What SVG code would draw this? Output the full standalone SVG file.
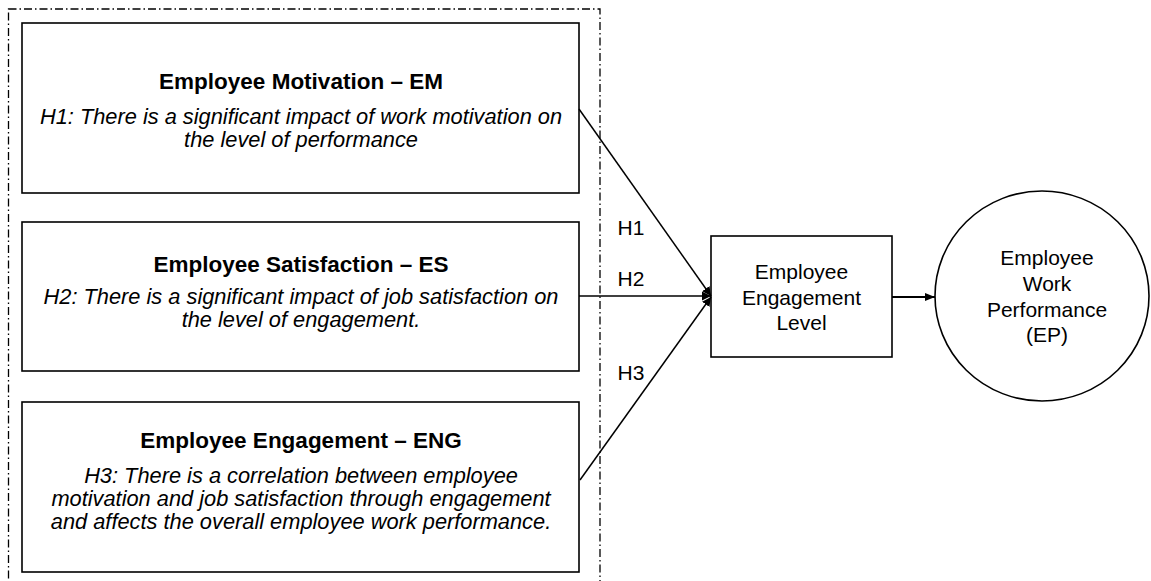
<svg xmlns="http://www.w3.org/2000/svg" width="1151" height="581" viewBox="0 0 1151 581">
  <style>
    .box { fill: #ffffff; stroke: #000000; stroke-width: 1.6; }
    .frame { fill: none; stroke: #000000; stroke-width: 1.3; stroke-dasharray: 8 3 1.5 3; }
    .title { font-family: "Liberation Sans", Arial, sans-serif; font-weight: bold; font-size: 22.5px; fill: #000000; text-anchor: middle; }
    .hyp { font-family: "Liberation Sans", Arial, sans-serif; font-style: italic; font-size: 21.8px; fill: #000000; text-anchor: middle; }
    .label { font-family: "Liberation Sans", Arial, sans-serif; font-size: 21px; fill: #000000; text-anchor: middle; }
    .edge { fill: none; stroke: #000000; stroke-width: 1.5; }
    .edge-out { fill: none; stroke: #000000; stroke-width: 2.2; }
  </style>
  <defs>
    <marker id="arrow" viewBox="0 0 10 10" refX="10" refY="5" markerWidth="9" markerHeight="9" markerUnits="userSpaceOnUse" orient="auto">
      <path d="M0,0 L10,5 L0,10 z" fill="#000000"/>
    </marker>
    <marker id="arrow-out" viewBox="0 0 10 10" refX="10" refY="5" markerWidth="10" markerHeight="10" markerUnits="userSpaceOnUse" orient="auto">
      <path d="M0,1 L10,5 L0,9 z" fill="#000000"/>
    </marker>
  </defs>

  <rect width="1151" height="581" fill="#ffffff"/>

  <!-- dash-dot boundary around the three constructs -->
  <rect class="frame" x="8.5" y="9" width="591.5" height="600"/>

  <g id="node-em">
    <rect class="box" x="22" y="23" width="557" height="170"/>
    <text class="title" x="301" y="89">Employee Motivation – EM</text>
    <text class="hyp" x="301" y="124">H1: There is a significant impact of work motivation on</text>
    <text class="hyp" x="301" y="147">the level of performance</text>
  </g>

  <g id="node-es">
    <rect class="box" x="22" y="222" width="557" height="149"/>
    <text class="title" x="301" y="272">Employee Satisfaction – ES</text>
    <text class="hyp" x="301" y="304">H2: There is a significant impact of job satisfaction on</text>
    <text class="hyp" x="301" y="327">the level of engagement.</text>
  </g>

  <g id="node-eng">
    <rect class="box" x="22" y="402" width="557" height="170"/>
    <text class="title" x="301" y="448">Employee Engagement – ENG</text>
    <text class="hyp" x="301" y="483">H3: There is a correlation between employee</text>
    <text class="hyp" x="301" y="506">motivation and job satisfaction through engagement</text>
    <text class="hyp" x="301" y="529">and affects the overall employee work performance.</text>
  </g>

  <g id="node-eel">
    <rect class="box" x="711" y="236" width="181" height="121"/>
    <text class="label" x="801.5" y="279">Employee</text>
    <text class="label" x="801.5" y="305">Engagement</text>
    <text class="label" x="801.5" y="330">Level</text>
  </g>

  <g id="node-ep">
    <ellipse class="box" cx="1042" cy="296" rx="107" ry="105"/>
    <text class="label" x="1047" y="265">Employee</text>
    <text class="label" x="1047" y="291">Work</text>
    <text class="label" x="1047" y="317">Performance</text>
    <text class="label" x="1047" y="342">(EP)</text>
  </g>

  <g id="connectors">
    <line class="edge" x1="579" y1="109" x2="711" y2="296" marker-end="url(#arrow)"/>
    <line class="edge" x1="579" y1="296" x2="711" y2="296" marker-end="url(#arrow)"/>
    <line class="edge" x1="580" y1="480" x2="711" y2="297" marker-end="url(#arrow)"/>
    <line class="edge-out" x1="892" y1="297" x2="935" y2="297" marker-end="url(#arrow-out)"/>
    <text class="label" x="631" y="235">H1</text>
    <text class="label" x="631" y="286">H2</text>
    <text class="label" x="631" y="380">H3</text>
  </g>
</svg>
